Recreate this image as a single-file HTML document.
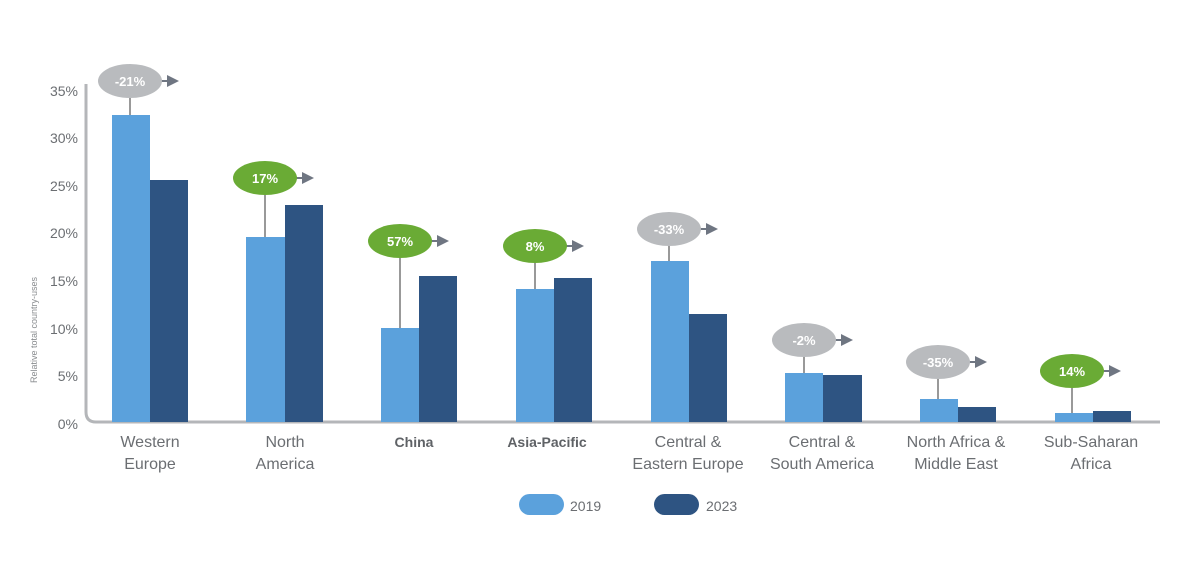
<!DOCTYPE html>
<html><head><meta charset="utf-8"><style>
html,body{margin:0;padding:0;background:#fff;}
svg{display:block;font-family:"Liberation Sans",sans-serif;}
.t{fill:#6b6e72;font-size:14px;}
.c{fill:#6b6e72;font-size:16px;text-anchor:middle;}
.cb{fill:#5f6266;font-size:14px;font-weight:bold;text-anchor:middle;}
.b{fill:#fff;font-size:13px;font-weight:bold;text-anchor:middle;}
</style></head><body>
<svg width="1200" height="577" viewBox="0 0 1200 577">
<g class="t" text-anchor="end">
<text x="78" y="96">35%</text><text x="78" y="143">30%</text><text x="78" y="191">25%</text>
<text x="78" y="238">20%</text><text x="78" y="286">15%</text><text x="78" y="334">10%</text>
<text x="78" y="381">5%</text><text x="78" y="429">0%</text>
</g>
<text transform="translate(37,330) rotate(-90)" style="fill:#8a8d90;font-size:9px" text-anchor="middle">Relative total country-uses</text>
<path d="M86 84 V412 Q86 422 96 422 H1160" fill="none" stroke="#b4b6b9" stroke-width="3"/>
<g fill="#5ba1dc">
<rect x="112" y="115" width="38" height="307"/><rect x="246" y="237" width="39" height="185"/>
<rect x="381" y="328" width="38" height="94"/><rect x="516" y="289" width="38" height="133"/>
<rect x="651" y="261" width="38" height="161"/><rect x="785" y="373" width="38" height="49"/>
<rect x="920" y="399" width="38" height="23"/><rect x="1055" y="413" width="38" height="9"/>
</g>
<g fill="#2e5482">
<rect x="150" y="180" width="38" height="242"/><rect x="285" y="205" width="38" height="217"/>
<rect x="419" y="276" width="38" height="146"/><rect x="554" y="278" width="38" height="144"/>
<rect x="689" y="314" width="38" height="108"/><rect x="823" y="375" width="39" height="47"/>
<rect x="958" y="407" width="38" height="15"/><rect x="1093" y="411" width="38" height="11"/>
</g>
<g stroke="#777" stroke-width="1.5">
<line x1="130" y1="98" x2="130" y2="115"/><line x1="265" y1="195" x2="265" y2="237"/>
<line x1="400" y1="258" x2="400" y2="328"/><line x1="535" y1="263" x2="535" y2="289"/>
<line x1="669" y1="246" x2="669" y2="261"/><line x1="804" y1="357" x2="804" y2="373"/>
<line x1="938" y1="379" x2="938" y2="399"/><line x1="1072" y1="388" x2="1072" y2="413"/>
</g>
<g id="bub">
</g>
<g>
<!-- bubbles: ellipse, arrow -->
<g stroke="#6f7682" stroke-width="2" fill="#6f7682">
<line x1="160" y1="81" x2="168" y2="81"/><path d="M167 75 L179 81 L167 87Z" stroke="none"/>
<line x1="295" y1="178" x2="303" y2="178"/><path d="M302 172 L314 178 L302 184Z" stroke="none"/>
<line x1="430" y1="241" x2="438" y2="241"/><path d="M437 235 L449 241 L437 247Z" stroke="none"/>
<line x1="565" y1="246" x2="573" y2="246"/><path d="M572 240 L584 246 L572 252Z" stroke="none"/>
<line x1="699" y1="229" x2="707" y2="229"/><path d="M706 223 L718 229 L706 235Z" stroke="none"/>
<line x1="834" y1="340" x2="842" y2="340"/><path d="M841 334 L853 340 L841 346Z" stroke="none"/>
<line x1="968" y1="362" x2="976" y2="362"/><path d="M975 356 L987 362 L975 368Z" stroke="none"/>
<line x1="1102" y1="371" x2="1110" y2="371"/><path d="M1109 365 L1121 371 L1109 377Z" stroke="none"/>
</g>
<ellipse cx="130" cy="81" rx="32" ry="17" fill="#b9bbbe"/><text class="b" x="130" y="86">-21%</text>
<ellipse cx="265" cy="178" rx="32" ry="17" fill="#6aab35"/><text class="b" x="265" y="183">17%</text>
<ellipse cx="400" cy="241" rx="32" ry="17" fill="#6aab35"/><text class="b" x="400" y="246">57%</text>
<ellipse cx="535" cy="246" rx="32" ry="17" fill="#6aab35"/><text class="b" x="535" y="251">8%</text>
<ellipse cx="669" cy="229" rx="32" ry="17" fill="#b9bbbe"/><text class="b" x="669" y="234">-33%</text>
<ellipse cx="804" cy="340" rx="32" ry="17" fill="#b9bbbe"/><text class="b" x="804" y="345">-2%</text>
<ellipse cx="938" cy="362" rx="32" ry="17" fill="#b9bbbe"/><text class="b" x="938" y="367">-35%</text>
<ellipse cx="1072" cy="371" rx="32" ry="17" fill="#6aab35"/><text class="b" x="1072" y="376">14%</text>
</g>
<text class="c" x="150" y="447">Western</text><text class="c" x="150" y="469">Europe</text>
<text class="c" x="285" y="447">North</text><text class="c" x="285" y="469">America</text>
<text class="cb" x="414" y="447">China</text>
<text class="cb" x="547" y="447">Asia-Pacific</text>
<text class="c" x="688" y="447">Central &amp;</text><text class="c" x="688" y="469">Eastern Europe</text>
<text class="c" x="822" y="447">Central &amp;</text><text class="c" x="822" y="469">South America</text>
<text class="c" x="956" y="447">North Africa &amp;</text><text class="c" x="956" y="469">Middle East</text>
<text class="c" x="1091" y="447">Sub-Saharan</text><text class="c" x="1091" y="469">Africa</text>
<rect x="519" y="494" width="45" height="21" rx="10.5" fill="#5ba1dc"/>
<text x="570" y="511" style="fill:#6b6e72;font-size:14px">2019</text>
<rect x="654" y="494" width="45" height="21" rx="10.5" fill="#2e5482"/>
<text x="706" y="511" style="fill:#6b6e72;font-size:14px">2023</text>
</svg>
</body></html>
